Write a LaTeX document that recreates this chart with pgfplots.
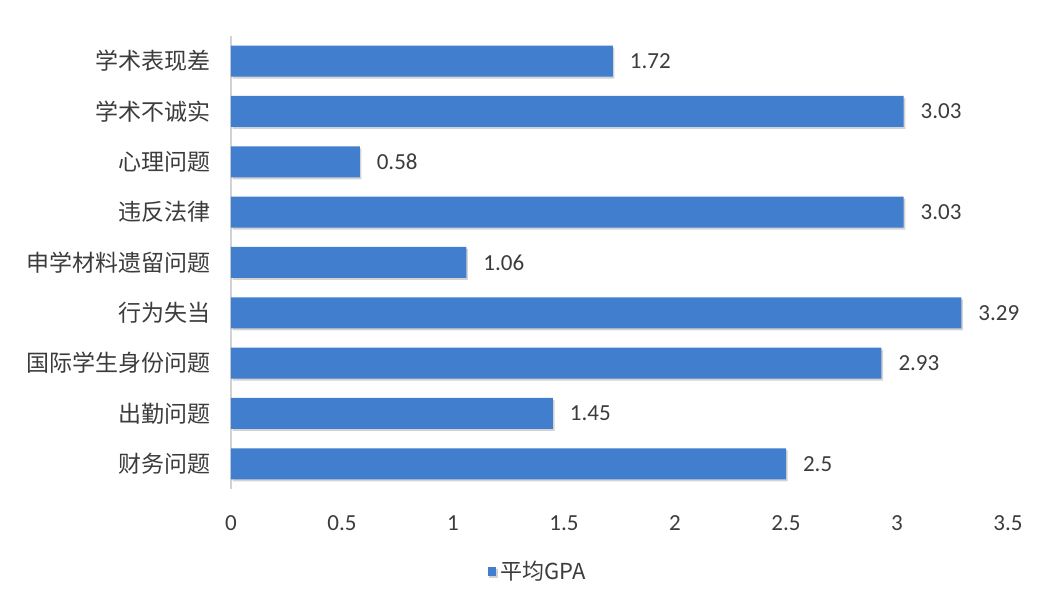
\documentclass[border=0pt]{standalone}
\usepackage{pgfplots}
\pgfplotsset{compat=1.18}
\usetikzlibrary{shadows}
\usepackage{fontspec}
\setmainfont{Carlito}
\newfontfamily\cjk{Noto Sans CJK SC}
\definecolor{barblue}{RGB}{66,126,206}
\definecolor{txt}{RGB}{60,60,60}
\definecolor{axgray}{RGB}{210,210,210}
\begin{document}
\begin{tikzpicture}
\begin{axis}[
  scale only axis,
  width=388.5pt, height=226.5pt,
  xmin=0, xmax=3.5,
  ymin=-0.5, ymax=8.5,
  xtick={0,0.5,1,1.5,2,2.5,3,3.5},
  ytick={0,1,2,3,4,5,6,7,8},
  yticklabels={财务问题,出勤问题,国际学生身份问题,行为失当,申学材料遗留问题,违反法律,心理问题,学术不诚实,学术表现差},
  yticklabel style={font=\cjk\fontsize{11.5pt}{13pt}\selectfont, text=txt, xshift=-6.5pt},
  xticklabel style={font=\fontsize{11.5pt}{13pt}\selectfont, text=txt, yshift=-10pt},
  /pgf/number format/assume math mode=true,
  /pgf/number format/fixed,
  /pgf/number format/precision=2,
  axis x line=none,
  axis y line*=left,
  y axis line style={axgray, line width=0.6pt},
  axis line style={-},
  major tick length=0pt,
  hide x axis=false,
  x axis line style={draw=none},
  xbar,
  bar width=15.5pt,
  nodes near coords,
  nodes near coords style={font=\fontsize{11.5pt}{13pt}\selectfont, text=txt, xshift=5pt},
  legend style={draw=none, at={(0.396,-0.183)}, anchor=center, font=\cjk\fontsize{11pt}{13pt}\selectfont, text=txt},
  legend image code/.code={\fill[barblue] (0pt,-2.2pt) rectangle (4.4pt,2.2pt);},
  clip=false,
]
\addplot[draw=none, fill=barblue, drop shadow={shadow xshift=0.8pt, shadow yshift=-1pt, opacity=0.35}] coordinates {
(2.5,0) (1.45,1) (2.93,2) (3.29,3) (1.06,4) (3.03,5) (0.58,6) (3.03,7) (1.72,8)
};
\addlegendentry{平均GPA}
\coordinate (SW) at (rel axis cs:0,0);
\coordinate (NE) at (rel axis cs:1,1);
\end{axis}
\pgfresetboundingbox
\path[use as bounding box] ([shift={(-115.5pt,-58.5pt)}]SW) rectangle ([shift={(17pt,18pt)}]NE);
\end{tikzpicture}
\end{document}
